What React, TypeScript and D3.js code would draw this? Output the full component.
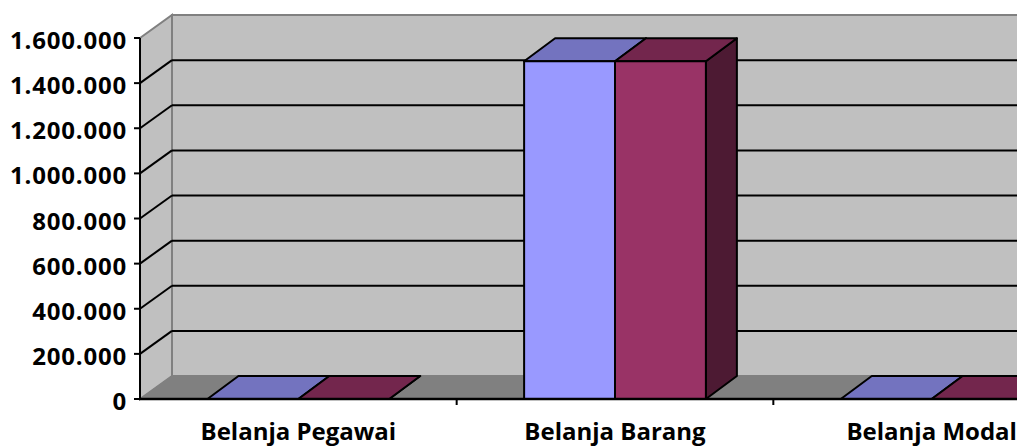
import React from "react";
import * as d3 from "d3";

const categories = ["Belanja Pegawai", "Belanja Barang", "Belanja Modal"];
const seriesNames = ["Anggaran", "Realisasi"];
const seriesA = [0, 1497000, 0];
const seriesB = [0, 1497000, 0];
const yTicks = [0, 200000, 400000, 600000, 800000, 1000000, 1200000, 1400000, 1600000];

const W = 1017;
const H = 446;
const DX = 32;
const DY = -23;
const BDX = 31;

const palette = [
  { front: "#9999ff", top: "#7373bf", side: "#4d4d80" },
  { front: "#993366", top: "#73264d", side: "#4d1a33" },
];

const locale = d3.formatLocale({ decimal: ",", thousands: ".", grouping: [3], currency: ["", ""] });
const fmt = locale.format(",");

export default function App() {
  const y = d3.scaleLinear().domain([0, 1600000]).range([399, 38]);
  const x0 = d3.scaleBand<string>().domain(categories).range([140, 1090]).padding(0);
  const bw = x0.bandwidth();
  const gap = bw * 0.213;
  const x1 = d3.scaleBand<string>().domain(seriesNames).range([gap, bw - gap]).padding(0);
  const values = [seriesA, seriesB];
  const left = 140;
  const right = 1090;
  const y0 = y(0);
  const yTop = y(1600000);
  const pts = (arr: number[][]) => arr.map((p) => p.join(",")).join(" ");
  const font = "'Open Sans', sans-serif";

  return (
    <svg width={W} height={H} style={{ position: "absolute", left: 0, top: 0, background: "#fff" }}>
      {/* back wall */}
      <polygon points={pts([[left + DX, yTop + DY], [right + DX, yTop + DY], [right + DX, y0 + DY], [left + DX, y0 + DY]])} fill="#c0c0c0" stroke="#808080" strokeWidth={2} />
      {/* left wall */}
      <polygon points={pts([[left, yTop], [left + DX, yTop + DY], [left + DX, y0 + DY], [left, y0]])} fill="#c0c0c0" stroke="#808080" strokeWidth={2} />
      {/* floor */}
      <polygon points={pts([[left, y0], [left + DX, y0 + DY], [right + DX, y0 + DY], [right, y0]])} fill="#808080" stroke="#808080" strokeWidth={1} />
      {/* grid lines */}
      {yTicks.filter((t) => t > 0 && t < 1600000).map((t) => (
        <g key={t}>
          <line x1={left + DX} x2={right + DX} y1={y(t) + DY} y2={y(t) + DY} stroke="#000" strokeWidth={2} />
          <line x1={left} x2={left + DX} y1={y(t)} y2={y(t) + DY} stroke="#000" strokeWidth={2} />
        </g>
      ))}
      {/* bars */}
      {categories.map((c, ci) =>
        seriesNames.map((s, si) => {
          const v = values[si][ci];
          const xl = (x0(c) as number) + (x1(s) as number);
          const xr = xl + x1.bandwidth();
          const yt = y(v);
          const col = palette[si];
          return (
            <g key={c + s} stroke="#000" strokeWidth={2} strokeLinejoin="round">
              <polygon points={pts([[xr, yt], [xr + BDX, yt + DY], [xr + BDX, y0 + DY], [xr, y0]])} fill={col.side} />
              <polygon points={pts([[xl, yt], [xl + BDX, yt + DY], [xr + BDX, yt + DY], [xr, yt]])} fill={col.top} />
              {v > 0 && <rect x={xl} y={yt} width={xr - xl} height={y0 - yt} fill={col.front} />}
            </g>
          );
        })
      )}
      {/* axes */}
      <line x1={left} x2={left} y1={yTop} y2={y0 + 1} stroke="#000" strokeWidth={2} />
      <line x1={left - 1} x2={right + 10} y1={y0} y2={y0} stroke="#000" strokeWidth={2.5} />
      {yTicks.map((t) => (
        <g key={"t" + t}>
          <line x1={left - 6} x2={left} y1={y(t)} y2={y(t)} stroke="#000" strokeWidth={2} />
          <text x={127} y={y(t) + 1.5} textAnchor="end" dominantBaseline="central" fontFamily={font} fontWeight="bold" fontSize={24} letterSpacing={0.8} fill="#000">
            {fmt(t)}
          </text>
        </g>
      ))}
      {categories.map((c, i) => (
        <g key={"c" + c}>
          {i > 0 && <line x1={x0(c) as number} x2={x0(c) as number} y1={y0} y2={y0 + 6} stroke="#000" strokeWidth={2} />}
          <text x={(x0(c) as number) + bw / 2} y={440} textAnchor="middle" fontFamily={font} fontWeight="bold" fontSize={24} fill="#000">
            {c}
          </text>
        </g>
      ))}
    </svg>
  );
}
